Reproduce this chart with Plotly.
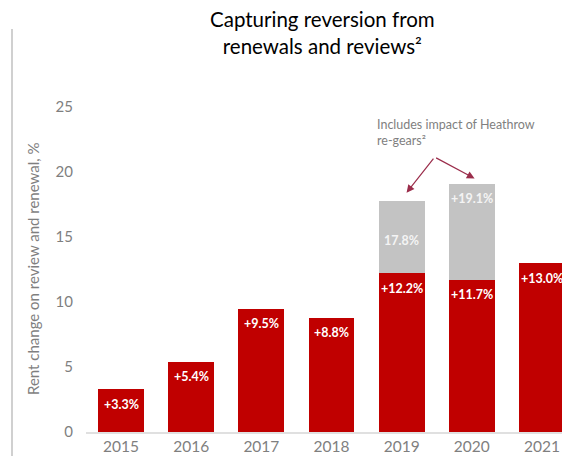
import plotly.graph_objects as go

years = [2015, 2016, 2017, 2018, 2019, 2020, 2021]
rent_change = [3.3, 5.4, 9.5, 8.8, 12.2, 11.7, 13.0]
incl_heathrow = [None, None, None, None, 17.8, 19.1, None]
red_labels = ["+3.3%", "+5.4%", "+9.5%", "+8.8%", "+12.2%", "+11.7%", "+13.0%"]
gray_labels = [None, None, None, None, "17.8%", "+19.1%", None]
y_ticks = [0, 5, 10, 15, 20, 25]

RED = "#C00000"
GRAY = "#C3C3C3"
TXT = "#7F7F7F"
FONT = "Lato"

# page body has an 8px margin; plot area is 484 x 351 px
PW, PH = 484, 351
OFF = 8

gray_extra = [(t - r) if t is not None else None for t, r in zip(incl_heathrow, rent_change)]

fig = go.Figure()
fig.add_trace(go.Bar(x=years, y=rent_change, marker_color=RED, width=0.655,
                     marker_line_width=0, hoverinfo="skip"))
fig.add_trace(go.Bar(x=years, y=gray_extra, marker_color=GRAY, width=0.655,
                     marker_line_width=0, hoverinfo="skip"))

annotations = []
for x, v, t in zip(years, rent_change, red_labels):
    annotations.append(dict(x=x, y=v, text="<b>" + t + "</b>", showarrow=False,
                            yshift=-15, font=dict(family=FONT, size=12.5, color="white")))
for x, v, t in zip(years, incl_heathrow, gray_labels):
    if v is None:
        continue
    shift = -40 if t.startswith("1") else -15
    annotations.append(dict(x=x, y=v, text="<b>" + t + "</b>", showarrow=False,
                            yshift=shift, font=dict(family=FONT, size=12.5, color="#F4F4F4")))

# note text and arrows
annotations.append(dict(xref="paper", yref="paper", x=(375 - 86) / PW, y=(432 - 115) / PH,
                        xanchor="left", yanchor="top", align="left", showarrow=False,
                        text="Includes impact of Heathrow<br>re-gears²",
                        font=dict(family=FONT, size=12.5, color=TXT)))
apex = (2019.47, 21.15)
for tip in [(2019.07, 18.4), (2020.04, 19.5)]:
    annotations.append(dict(x=tip[0], y=tip[1], ax=apex[0], ay=apex[1],
                            axref="x", ayref="y", text="", showarrow=True,
                            arrowhead=2, arrowsize=1.3, arrowwidth=1.2,
                            arrowcolor="#9B2D4B"))

# title
annotations.append(dict(xref="paper", yref="paper", x=(322 - 86) / PW, y=(432 - 5) / PH,
                        xanchor="center", yanchor="top", showarrow=False,
                        text="Capturing reversion from<br>renewals and reviews²",
                        font=dict(family=FONT, size=20.5, color="#000000")))
# y title
annotations.append(dict(xref="paper", yref="paper", x=(33 - 86) / PW, y=(432 - 269) / PH,
                        xanchor="center", yanchor="middle", showarrow=False, textangle=-90,
                        text="Rent change on review and renewal, %",
                        font=dict(family=FONT, size=15, color=TXT)))

fig.update_layout(
    width=570 - OFF, height=456 - OFF,
    margin=dict(l=86 - OFF, r=0, t=81 - OFF, b=24),
    paper_bgcolor="white", plot_bgcolor="white",
    barmode="stack", showlegend=False,
    annotations=annotations,
    shapes=[dict(type="line", xref="paper", yref="paper",
                 x0=(12 - 86) / PW, x1=(12 - 86) / PW,
                 y0=-0.1, y1=(432 - 29) / PH,
                 line=dict(color="#D0D0D0", width=2))],
    xaxis=dict(range=[2014.5, 2021.4], tickvals=years, ticktext=[str(y) for y in years],
               showgrid=False, zeroline=False, showline=True, linecolor="#E0E0E0", linewidth=1.5,
               ticks="", tickfont=dict(family=FONT, size=15.5, color=TXT)),
    yaxis=dict(range=[0, 27], tickvals=y_ticks, showgrid=False, zeroline=False,
               showline=False, ticks="", ticklabelstandoff=12,
               tickfont=dict(family=FONT, size=15, color=TXT)),
)

fig.write_html("out.html")
